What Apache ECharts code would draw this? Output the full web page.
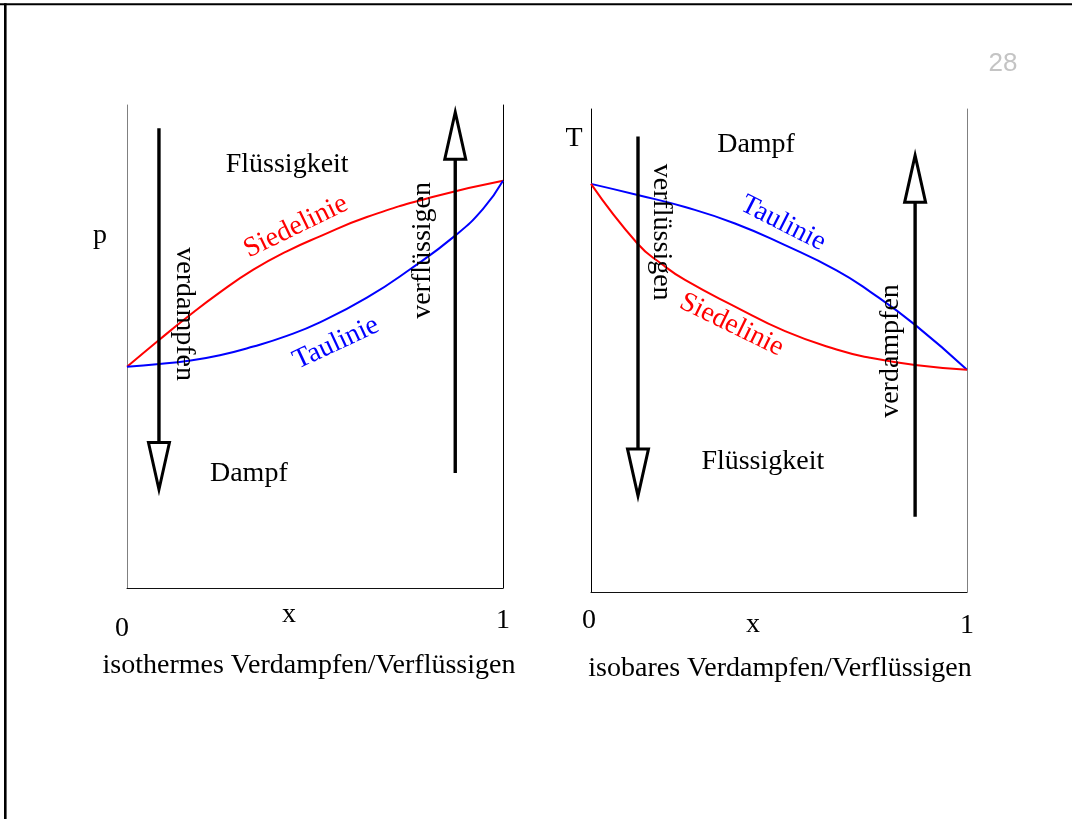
<!DOCTYPE html>
<html>
<head>
<meta charset="utf-8">
<script src="https://cdn.jsdelivr.net/npm/echarts@6/dist/echarts.min.js"></script>
<style>
  html, body { margin: 0; padding: 0; background: #fff; }
  #chart { width: 1072px; height: 819px; }
</style>
</head>
<body>
<div id="chart"></div>
<script>
// ---- values (x = Stoffmengenanteil, p / T in relativen Einheiten 0..100) ----
const xTickLabels = ['0', '1'];

// isothermes Diagramm p(x)
const isoSiedeX = [0, 0.086, 0.159, 0.247, 0.336, 0.425, 0.513, 0.638, 0.815, 1];
const isoSiedeP = [45.8, 51.4, 56.0, 61.2, 65.9, 69.7, 72.8, 76.8, 81.0, 84.3];
const isoTauX = [0, 0.086, 0.159, 0.247, 0.336, 0.425, 0.513, 0.638, 0.753, 0.872, 0.947, 1];
const isoTauP = [45.8, 46.4, 47.0, 48.2, 50.0, 52.2, 55.0, 60.1, 66.0, 72.9, 78.5, 84.3];

// isobares Diagramm T(x)
const isoBarTauX = [0, 0.124, 0.25, 0.383, 0.516, 0.653, 0.742, 0.862, 1];
const isoBarTauT = [84.5, 82.2, 79.7, 76.3, 71.8, 66.6, 62.2, 55.3, 46.0];
const isoBarSiedeX = [0, 0.124, 0.188, 0.25, 0.383, 0.516, 0.653, 0.742, 0.862, 1];
const isoBarSiedeT = [84.5, 72.1, 67.9, 64.6, 59.1, 54.0, 50.2, 48.5, 47.0, 46.0];

// Pfeile: [x, Start, Spitze]
const isoArrows = [[0.085, 95.2, 20.4], [0.873, 23.8, 98.5]];
const isoBarArrows = [[0.125, 94.3, 19.9], [0.862, 15.6, 90.4]];

const INK = '#000';
const RED = '#ff0000';
const BLUE = '#0000ff';
const SERIF = '"Liberation Serif", "Times New Roman", serif';

// Beschriftungen im Diagramm (Lage in Achsenkoordinaten)
const isoNotes = [
  { text: 'Flüssigkeit', at: [0.426, 87.7], angle: 0, color: INK },
  { text: 'Siedelinie', at: [0.449, 74.8], angle: 26, color: RED },
  { text: 'Taulinie', at: [0.556, 50.7], angle: 25, color: BLUE },
  { text: 'verdampfen', at: [0.152, 56.7], angle: -90, color: INK },
  { text: 'verflüssigen', at: [0.787, 69.9], angle: 90, color: INK },
  { text: 'Dampf', at: [0.324, 23.7], angle: 0, color: INK }
];
const isoBarNotes = [
  { text: 'Dampf', at: [0.439, 92.6], angle: 0, color: INK },
  { text: 'Taulinie', at: [0.511, 76.3], angle: -27, color: BLUE },
  { text: 'Siedelinie', at: [0.374, 55.3], angle: -26, color: RED },
  { text: 'verflüssigen', at: [0.186, 74.5], angle: -90, color: INK },
  { text: 'verdampfen', at: [0.798, 49.9], angle: 90, color: INK },
  { text: 'Flüssigkeit', at: [0.457, 26.9], angle: 0, color: INK }
];

const zip = (xs, ys) => xs.map((x, i) => [x, ys[i]]);

function xAxisFor(gridIndex, margin, nameGap, pad0, pad1) {
  return {
    gridIndex, type: 'value', min: 0, max: 1, interval: 1,
    axisLine: { show: true, onZero: false, lineStyle: { color: '#111', width: 1 } },
    axisTick: { show: false },
    splitLine: { show: false },
    axisLabel: {
      margin,
      formatter: v => (v === 0 ? '{a|' + xTickLabels[0] + '}' : '{b|' + xTickLabels[1] + '}'),
      rich: {
        a: { fontFamily: SERIF, fontSize: 28, color: INK, padding: pad0 },
        b: { fontFamily: SERIF, fontSize: 28, color: INK, padding: pad1 }
      }
    },
    name: 'x', nameLocation: 'middle', nameGap, nameMoveOverlap: false,
    nameTextStyle: { fontFamily: SERIF, fontSize: 28, color: INK, padding: [0, 52, 0, 0] }
  };
}

function yAxisFor(gridIndex, position, color) {
  return {
    gridIndex, type: 'value', min: 0, max: 100, position,
    axisLine: { show: true, onZero: false, lineStyle: { color, width: 1 } },
    axisTick: { show: false }, axisLabel: { show: false }, splitLine: { show: false }
  };
}

function curve(xi, yi, xs, ys, color) {
  return {
    type: 'line', xAxisIndex: xi, yAxisIndex: yi, data: zip(xs, ys),
    showSymbol: false, smooth: 0.5, silent: true,
    lineStyle: { color, width: 2 }
  };
}

function arrows(xi, yi, list) {
  return {
    type: 'custom', xAxisIndex: xi, yAxisIndex: yi, data: list, silent: true, z: 5,
    renderItem(params, api) {
      const p0 = api.coord([api.value(0), api.value(1)]);
      const p1 = api.coord([api.value(0), api.value(2)]);
      const dir = p1[1] > p0[1] ? 1 : -1;
      const headLen = 47, hw = 10.5;
      const baseY = p1[1] - dir * headLen;
      return {
        type: 'group',
        children: [
          { type: 'line', shape: { x1: p1[0], y1: p0[1], x2: p1[0], y2: baseY },
            style: { stroke: INK, lineWidth: 3.4 } },
          { type: 'polygon',
            shape: { points: [[p1[0], p1[1]], [p1[0] - hw, baseY], [p1[0] + hw, baseY]] },
            style: { fill: '#fff', stroke: INK, lineWidth: 3, lineJoin: 'miter', miterLimit: 20 } }
        ]
      };
    }
  };
}

function notes(xi, yi, list) {
  return {
    type: 'custom', xAxisIndex: xi, yAxisIndex: yi, silent: true, z: 6,
    data: list.map(n => n.at),
    renderItem(params, api) {
      const n = list[params.dataIndex];
      const p = api.coord([api.value(0), api.value(1)]);
      return {
        type: 'text', x: p[0], y: p[1], rotation: n.angle * Math.PI / 180,
        style: { text: n.text, fill: n.color, fontFamily: SERIF, fontSize: 28,
                 align: 'center', verticalAlign: 'middle' }
      };
    }
  };
}

function label(text, x, y) {
  return {
    type: 'text', x, y, silent: true,
    style: { text, fill: INK, fontFamily: SERIF, fontSize: 28, align: 'center', verticalAlign: 'middle' }
  };
}

const chart = echarts.init(document.getElementById('chart'), null, { renderer: 'canvas' });

chart.setOption({
  animation: false,
  backgroundColor: '#fff',
  grid: [
    { left: 127, top: 105, width: 376, height: 483, containLabel: false },
    { left: 591, top: 109, width: 376, height: 483, containLabel: false }
  ],
  xAxis: [
    xAxisFor(0, 19, 13, [8, 10, 0, 0], [0, 0, 0, 0]),
    xAxisFor(1, 15, 19, [0, 4, 0, 0], [5, 0, 0, 0])
  ],
  yAxis: [
    yAxisFor(0, 'left', '#808080'),
    yAxisFor(0, 'right', '#000'),
    yAxisFor(1, 'left', '#000'),
    yAxisFor(1, 'right', '#808080')
  ],
  series: [
    curve(0, 0, isoSiedeX, isoSiedeP, RED),
    curve(0, 0, isoTauX, isoTauP, BLUE),
    curve(1, 2, isoBarTauX, isoBarTauT, BLUE),
    curve(1, 2, isoBarSiedeX, isoBarSiedeT, RED),
    arrows(0, 0, isoArrows),
    arrows(1, 2, isoBarArrows),
    notes(0, 0, isoNotes),
    notes(1, 2, isoBarNotes)
  ],
  graphic: [
    // Rahmen der Folie
    { type: 'line', shape: { x1: 0, y1: 4.3, x2: 1072, y2: 4.3 }, style: { stroke: INK, lineWidth: 2 }, silent: true },
    { type: 'line', shape: { x1: 5.3, y1: 3.3, x2: 5.3, y2: 819 }, style: { stroke: INK, lineWidth: 2.6 }, silent: true },
    // Seitenzahl
    { type: 'text', x: 1003, y: 64, silent: true,
      style: { text: '28', fill: '#c4c4c4', fontFamily: '"Liberation Sans", Arial, sans-serif', fontSize: 26,
               align: 'center', verticalAlign: 'middle' } },
    // Achsenbezeichnungen und Unterschriften
    label('p', 100, 236),
    label('T', 574, 139),
    label('isothermes Verdampfen/Verflüssigen', 309, 666),
    label('isobares Verdampfen/Verflüssigen', 780, 669)
  ]
});
</script>
</body>
</html>
